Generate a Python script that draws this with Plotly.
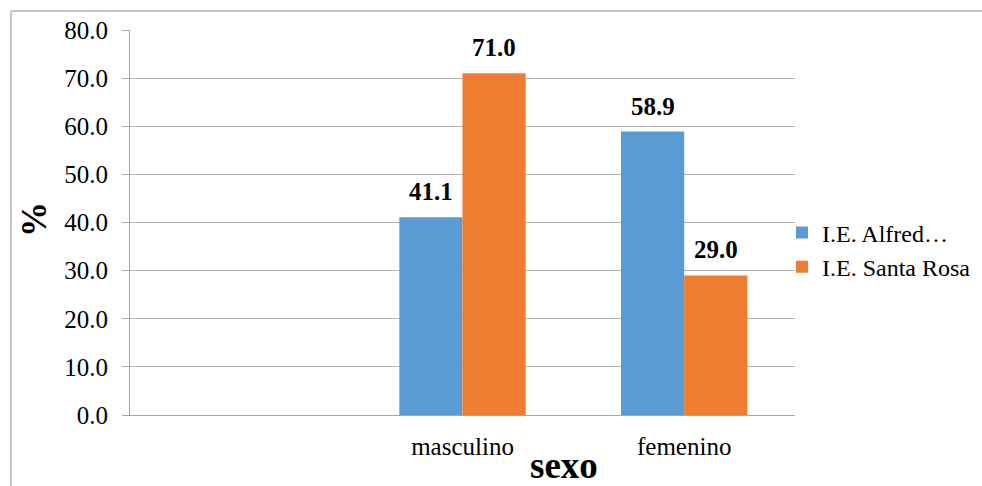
import plotly.graph_objects as go

categories = [" ", "masculino", "femenino"]
series_names = ["I.E. Alfred…", "I.E. Santa Rosa"]
alfred = [None, 41.1, 58.9]
santa_rosa = [None, 71.0, 29.0]
colors = ["#5B9BD5", "#ED7D31"]
tick_vals = [0, 10, 20, 30, 40, 50, 60, 70, 80]

W, H = 982, 486
L, R, T, B = 130, 187, 30, 71
pw, ph = W - L - R, H - T - B

FONT = "Liberation Serif, Times New Roman, serif"

fig = go.Figure()
for name, vals, col in zip(series_names, [alfred, santa_rosa], colors):
    fig.add_trace(go.Bar(x=categories, y=vals, name=name, marker=dict(color=col, line=dict(width=0))))

bargap = 0.43
half = (1 - bargap) / 4
annotations = []
for si, vals in enumerate([alfred, santa_rosa]):
    off = -half if si == 0 else half
    for ci, v in enumerate(vals):
        if v is None:
            continue
        annotations.append(dict(x=ci + off, y=v, xref="x", yref="y", text="<b>%.1f</b>" % v,
                                showarrow=False, xanchor="center", yanchor="bottom", yshift=10,
                                font=dict(family=FONT, size=25, color="black")))

def px2x(p):
    return (p - L) / pw

def py2y(p):
    return (H - B - p) / ph

annotations.append(dict(x=px2x(564), y=py2y(465), xref="paper", yref="paper", text="<b>sexo</b>",
                        showarrow=False, xanchor="center", yanchor="middle",
                        font=dict(family=FONT, size=37, color="black")))
annotations.append(dict(x=px2x(34), y=py2y(220), xref="paper", yref="paper", text="<b>%</b>",
                        showarrow=False, textangle=-90, xanchor="center", yanchor="middle",
                        font=dict(family=FONT, size=35, color="black")))

fig.update_layout(
    width=W, height=H,
    margin=dict(l=L, r=R, t=T, b=B, autoexpand=False),
    paper_bgcolor="white", plot_bgcolor="white",
    barmode="group", bargap=bargap, bargroupgap=0,
    font=dict(family=FONT, size=25, color="black"),
    showlegend=True,
    legend=dict(x=px2x(782), y=py2y(250), xanchor="left", yanchor="middle",
                font=dict(family=FONT, size=24, color="black"), tracegroupgap=0,
                itemwidth=30, bgcolor="rgba(0,0,0,0)"),
    annotations=annotations,
    shapes=[dict(type="rect", xref="paper", yref="paper",
                 x0=px2x(11), x1=px2x(1000), y0=py2y(500), y1=py2y(11),
                 line=dict(color="#8c8c8c", width=1), layer="below")],
)
fig.update_xaxes(type="category", categoryorder="array", categoryarray=categories,
                 showline=True, linecolor="#a6a6a6", linewidth=1, ticks="",
                 showgrid=False, ticklabelstandoff=9,
                 tickfont=dict(family=FONT, size=25, color="black"))
fig.update_yaxes(range=[0, 80], tickvals=tick_vals, tickformat=".1f",
                 showline=True, linecolor="#a6a6a6", linewidth=1,
                 ticks="outside", ticklen=7, tickcolor="#a6a6a6",
                 showgrid=True, gridcolor="#b3b3b3", gridwidth=1, zeroline=False,
                 ticklabelstandoff=9,
                 tickfont=dict(family=FONT, size=25, color="black"))

fig.write_html("out.html", config={"displayModeBar": False},
               post_script="document.body.style.margin='0';document.body.style.overflow='hidden';")
